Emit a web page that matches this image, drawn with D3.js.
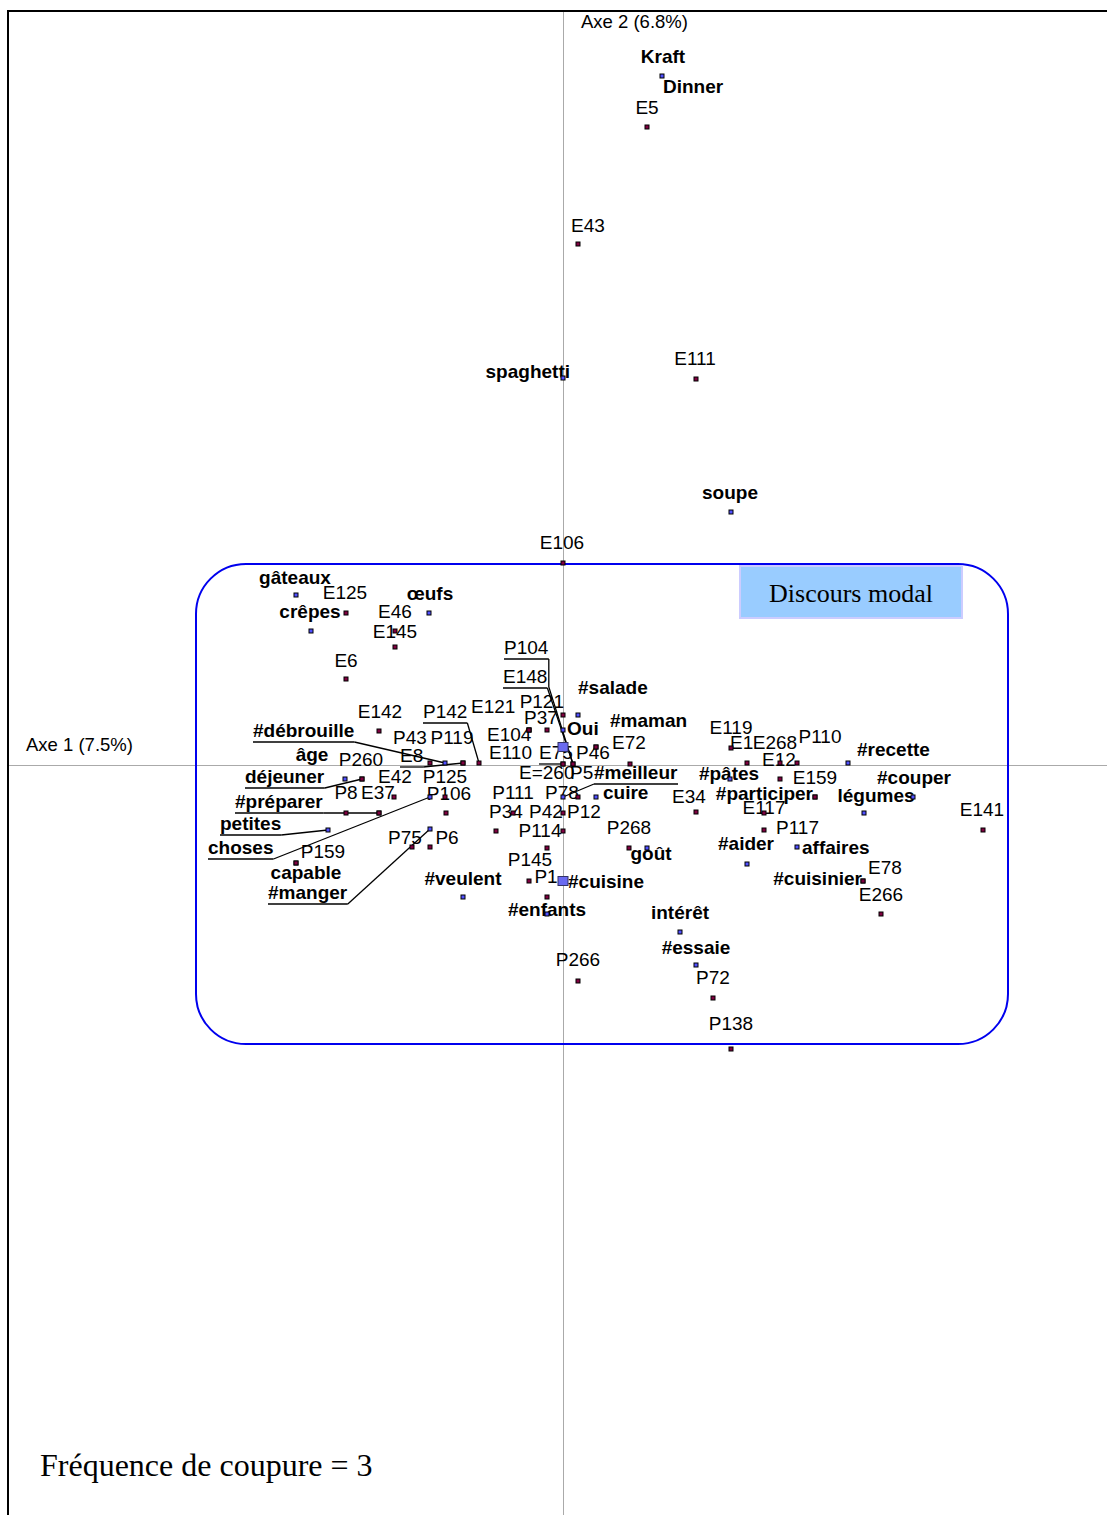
<!DOCTYPE html>
<html>
<head>
<meta charset="utf-8">
<script src="https://cdn.jsdelivr.net/npm/d3@7"></script>
<style>
body{margin:0;background:#fff}
svg{display:block}
</style>
</head>
<body>
<div id="chart"></div>
<script>
// coordinates of words (bold) and text codes (E.., P..) on the two factor axes
const names = ["Kraft Dinner","E5","E43","spaghetti","E111","soupe","E106","gâteaux","E125","crêpes",
  "œufs","E46","E145","E6","E142","#débrouille","P142","P43","P119","E8",
  "âge","déjeuner","P260","E42","P125","#préparer","P8","E37","P106","petites",
  "choses","#manger","P75","P6","capable","P159","#veulent","P104","E148","P121",
  "#salade","P37","Oui","E104","E121","#maman","E110","E75","P46","E=260",
  "E72","P5","#meilleur","P111","P78","cuire","E34","P34","P42","P12",
  "P114","P268","goût","P145","P1","#cuisine","#enfants","intérêt","#essaie","P266",
  "P72","P138","E119","E1","E268","P110","#recette","E12","#pâtes","#participer",
  "E159","#couper","légumes","E117","P117","#aider","affaires","#cuisinier","E78","E266","E141"];
const axis1 = [0.99,0.84,0.15,0.00,1.33,1.68,0.00,-2.67,-2.17,-2.52,
  -1.34,-1.68,-1.68,-2.17,-1.84,-1.18,-0.84,-1.33,-1.00,-1.00,
  -2.18,-2.01,-2.01,-1.69,-1.18,-1.84,-2.17,-1.84,-1.17,-2.35,
  -1.33,-1.33,-1.51,-1.33,-2.67,-2.67,-1.00,0.10,0.10,0.00,
  0.15,-0.16,0.00,-0.34,-0.34,0.33,-0.34,0.00,0.33,0.00,
  0.67,0.00,0.00,-0.50,0.00,0.33,1.33,-0.67,0.00,0.15,
  -0.16,0.66,0.84,-0.34,-0.16,0.00,-0.16,1.17,1.33,0.15,
  1.50,1.68,1.68,1.84,2.17,2.34,2.85,2.17,1.67,2.52,
  2.52,3.50,3.01,2.01,2.01,1.84,2.34,3.00,3.00,3.18,4.20];
const axis2 = [6.89,6.38,5.21,3.87,3.86,2.53,2.02,1.70,1.52,1.34,
  1.52,1.34,1.18,0.86,0.34,0.02,0.02,0.02,0.02,0.02,
  -0.14,-0.14,-0.14,-0.32,-0.32,-0.48,-0.48,-0.48,-0.48,-0.65,
  -0.32,-0.64,-0.82,-0.82,-0.98,-0.98,-1.32,0.01,0.01,0.50,
  0.50,0.35,0.35,0.35,0.35,0.18,0.35,0.01,0.18,0.18,
  0.01,0.01,-0.32,-0.48,-0.48,-0.32,-0.47,-0.66,-0.66,-0.32,
  -0.83,-0.83,-0.83,-1.16,-1.32,-1.16,-1.49,-1.67,-2.00,-2.16,
  -2.33,-2.84,0.17,0.02,0.02,0.02,0.02,-0.14,-0.14,-0.32,
  -0.32,-0.32,-0.48,-0.48,-0.65,-0.99,-0.82,-1.16,-1.16,-1.49,-0.65];
const axisTitles = ["Axe 1 (7.5%)", "Axe 2 (6.8%)"];
const classRegion = {name: "Discours modal", x0: -3.67, x1: 4.45, y0: 2.01, y1: -2.79};
const footnote = "Fréquence de coupure = 3";
const bigMarks = ["E=260", "#cuisine"];

// label placement from its point: dx, dy (baseline), anchor, underline+leader, bend dy
const labelPlace = {
  "Kraft Dinner": [[1,-14,"m"],[1,16,"s"]],
  "E5":[0,-14,"m"], "E43":[10,-13,"m"], "spaghetti":[7,-1,"e"], "E111":[-1,-15,"m"],
  "soupe":[-1,-14,"m"], "E106":[-1,-15,"m"], "gâteaux":[-1,-12,"m"], "E125":[-1,-15,"m"],
  "crêpes":[-1,-14,"m"], "œufs":[1,-14,"m"], "E46":[0,-14,"m"], "E145":[0,-10,"m"],
  "E6":[0,-13,"m"], "E142":[1,-14,"m"], "#débrouille":[-192,-27,"s",1], "P142":[-56,-46,"s",1],
  "P43":[-20,-20,"m"], "P119":[-11,-20,"m"], "E8":[-63,-2,"s",1], "âge":[-33,-19,"m"],
  "déjeuner":[-117,3,"s",1], "P260":[-1,-14,"m"], "E42":[1,-15,"m"], "P125":[0,-15,"m"],
  "#préparer":[-144,-6,"s",1], "P8":[0,-15,"m"], "E37":[-1,-15,"m"], "P106":[3,-14,"m"],
  "petites":[-108,-1,"s",1], "choses":[-222,56,"s",1], "#manger":[-162,69,"s",1],
  "P75":[-7,-4,"m"], "P6":[17,-4,"m"], "capable":[10,15,"m"], "P159":[27,-6,"m"],
  "#veulent":[0,-13,"m"], "P104":[-69,-111,"s",1,-77], "E148":[-70,-82,"s",1], "P121":[1,-8,"e"],
  "#salade":[0,-22,"s"], "P37":[-6,-7,"m"], "Oui":[4,4,"s"], "E104":[-42,10,"s"],
  "E121":[-58,-18,"s"], "#maman":[14,-21,"s"], "E110":[-40,28,"s"], "E75":[-24,-6,"s",1],
  "P46":[-20,11,"s"], "E=260":[-44,31,"s"], "E72":[-1,-16,"m"], "P5":[7,14,"s"],
  "#meilleur":[31,-19,"s",1], "P111":[0,-15,"m"], "P78":[-1,-15,"m"], "cuire":[7,1,"s"],
  "E34":[-7,-10,"m"], "P34":[10,-14,"m"], "P42":[-17,-14,"m"], "P12":[-11,20,"s"],
  "P114":[-7,-12,"m"], "P268":[0,-15,"m"], "goût":[4,11,"m"], "P145":[1,-16,"m"],
  "P1":[-1,-15,"m"], "#cuisine":[5,6,"s"], "#enfants":[0,1,"m"], "intérêt":[0,-14,"m"],
  "#essaie":[0,-12,"m"], "P266":[0,-16,"m"], "P72":[0,-15,"m"], "P138":[0,-20,"m"],
  "E119":[0,-15,"m"], "E1":[-17,-15,"s"], "E268":[-5,-15,"m"], "P110":[23,-21,"m"],
  "#recette":[9,-8,"s"], "E12":[-1,-14,"m"], "#pâtes":[-1,0,"m"], "#participer":[-2,2,"e"],
  "E159":[0,-14,"m"], "#couper":[1,-14,"m"], "légumes":[12,-12,"m"], "E117":[0,0,"m"],
  "P117":[12,3,"s"], "#aider":[-1,-15,"m"], "affaires":[5,6,"s"], "#cuisinier":[-1,3,"e"],
  "E78":[5,-8,"s"], "E266":[0,-14,"m"], "E141":[-1,-15,"m"]
};

const W = 1107, H = 1515;
const anchors = {m: "middle", s: "start", e: "end"};
const isCode = n => /^[EP][0-9=]/.test(n);

const x = d3.scaleLinear().domain([-5.55, 5.44]).range([8, W]);
const y = d3.scaleLinear().domain([-7.5, 7.55]).range([H, 10]);

const svg = d3.select("#chart").append("svg")
  .attr("width", W).attr("height", H)
  .style("font-family", "'Liberation Sans', Arial, sans-serif");

// axes through the origin
svg.append("line").attr("x1", x(0)).attr("x2", x(0)).attr("y1", 10).attr("y2", H)
  .attr("stroke", "#aaa").attr("stroke-width", 1).attr("shape-rendering", "crispEdges");
svg.append("line").attr("x1", 8).attr("x2", W).attr("y1", y(0)).attr("y2", y(0))
  .attr("stroke", "#aaa").attr("stroke-width", 1).attr("shape-rendering", "crispEdges");

// frame
svg.append("path").attr("d", `M8,${H} V11 H${W}`)
  .attr("fill", "none").attr("stroke", "#000").attr("stroke-width", 2);

// class region
svg.append("rect")
  .attr("x", x(classRegion.x0)).attr("y", y(classRegion.y0))
  .attr("width", x(classRegion.x1) - x(classRegion.x0))
  .attr("height", y(classRegion.y1) - y(classRegion.y0))
  .attr("rx", 50).attr("ry", 50)
  .attr("fill", "none").attr("stroke", "#0000ee").attr("stroke-width", 2);

const boxW = 222, boxH = 52;
const boxX = x(classRegion.x1) - 46 - boxW, boxY = y(classRegion.y0) + 2;
svg.append("rect").attr("x", boxX).attr("y", boxY).attr("width", boxW).attr("height", boxH)
  .attr("fill", "#99ccff").attr("stroke", "#ccccff").attr("stroke-width", 2);
svg.append("text").attr("x", boxX + boxW / 2).attr("y", boxY + 36)
  .attr("text-anchor", "middle").style("font-family", "'Liberation Serif', 'Times New Roman', serif")
  .style("font-size", "26px").text(classRegion.name);

// axis titles
svg.append("text").attr("x", 26).attr("y", y(0) - 14).style("font-size", "18.5px").text(axisTitles[0]);
svg.append("text").attr("x", x(0) + 18).attr("y", 28).style("font-size", "18.5px").text(axisTitles[1]);

svg.append("text").attr("x", 40).attr("y", 1476)
  .style("font-family", "'Liberation Serif', 'Times New Roman', serif")
  .style("font-size", "32px").text(footnote);

const items = names.map((n, i) => ({name: n, px: x(axis1[i]), py: y(axis2[i]), code: isCode(n)}));

const labelG = svg.append("g");
const leaderG = svg.append("g").attr("stroke", "#000").attr("stroke-width", 1.3).attr("fill", "none");

items.forEach(d => {
  let place = labelPlace[d.name] || [0, -15, "m"];
  const parts = Array.isArray(place[0]) ? place : [place];
  const words = parts.length > 1 ? d.name.split(" ") : [d.name];
  parts.forEach((p, k) => {
    const t = labelG.append("text")
      .attr("x", d.px + p[0]).attr("y", d.py + p[1] + 1)
      .attr("text-anchor", anchors[p[2]])
      .style("font-size", "19px")
      .style("font-weight", d.code ? "normal" : "bold")
      .text(words[k]);
    if (p[3]) {
      const bb = t.node().getBBox();
      const uy = d.py + p[1] + 6;
      let x0 = bb.x, x1 = bb.x + bb.width, ex;
      if (d.px >= x1) ex = x1;
      else if (d.px <= x0) ex = x0;
      else { x1 = d.px; ex = d.px; }
      leaderG.append("line").attr("x1", x0).attr("x2", x1).attr("y1", uy).attr("y2", uy);
      const pts = [[ex, uy]];
      if (p[4] !== undefined) pts.push([ex, d.py + p[4]]);
      pts.push([d.px, d.py]);
      leaderG.append("path").attr("d", d3.line()(pts));
    }
  });
});

// point marks on top of the labels
svg.append("g").selectAll("rect")
  .data(items)
  .join("rect")
  .attr("x", d => d.px - (bigMarks.includes(d.name) ? 5 : 2))
  .attr("y", d => d.py - (bigMarks.includes(d.name) ? 4.5 : 2))
  .attr("width", d => bigMarks.includes(d.name) ? 10 : 4)
  .attr("height", d => bigMarks.includes(d.name) ? 9 : 4)
  .attr("fill", d => bigMarks.includes(d.name) ? "#6a6af0" : (d.code ? "#800040" : "#5050ff"))
  .attr("stroke", d => bigMarks.includes(d.name) ? "#333366" : "#000")
  .attr("stroke-width", 1);
</script>
</body>
</html>
